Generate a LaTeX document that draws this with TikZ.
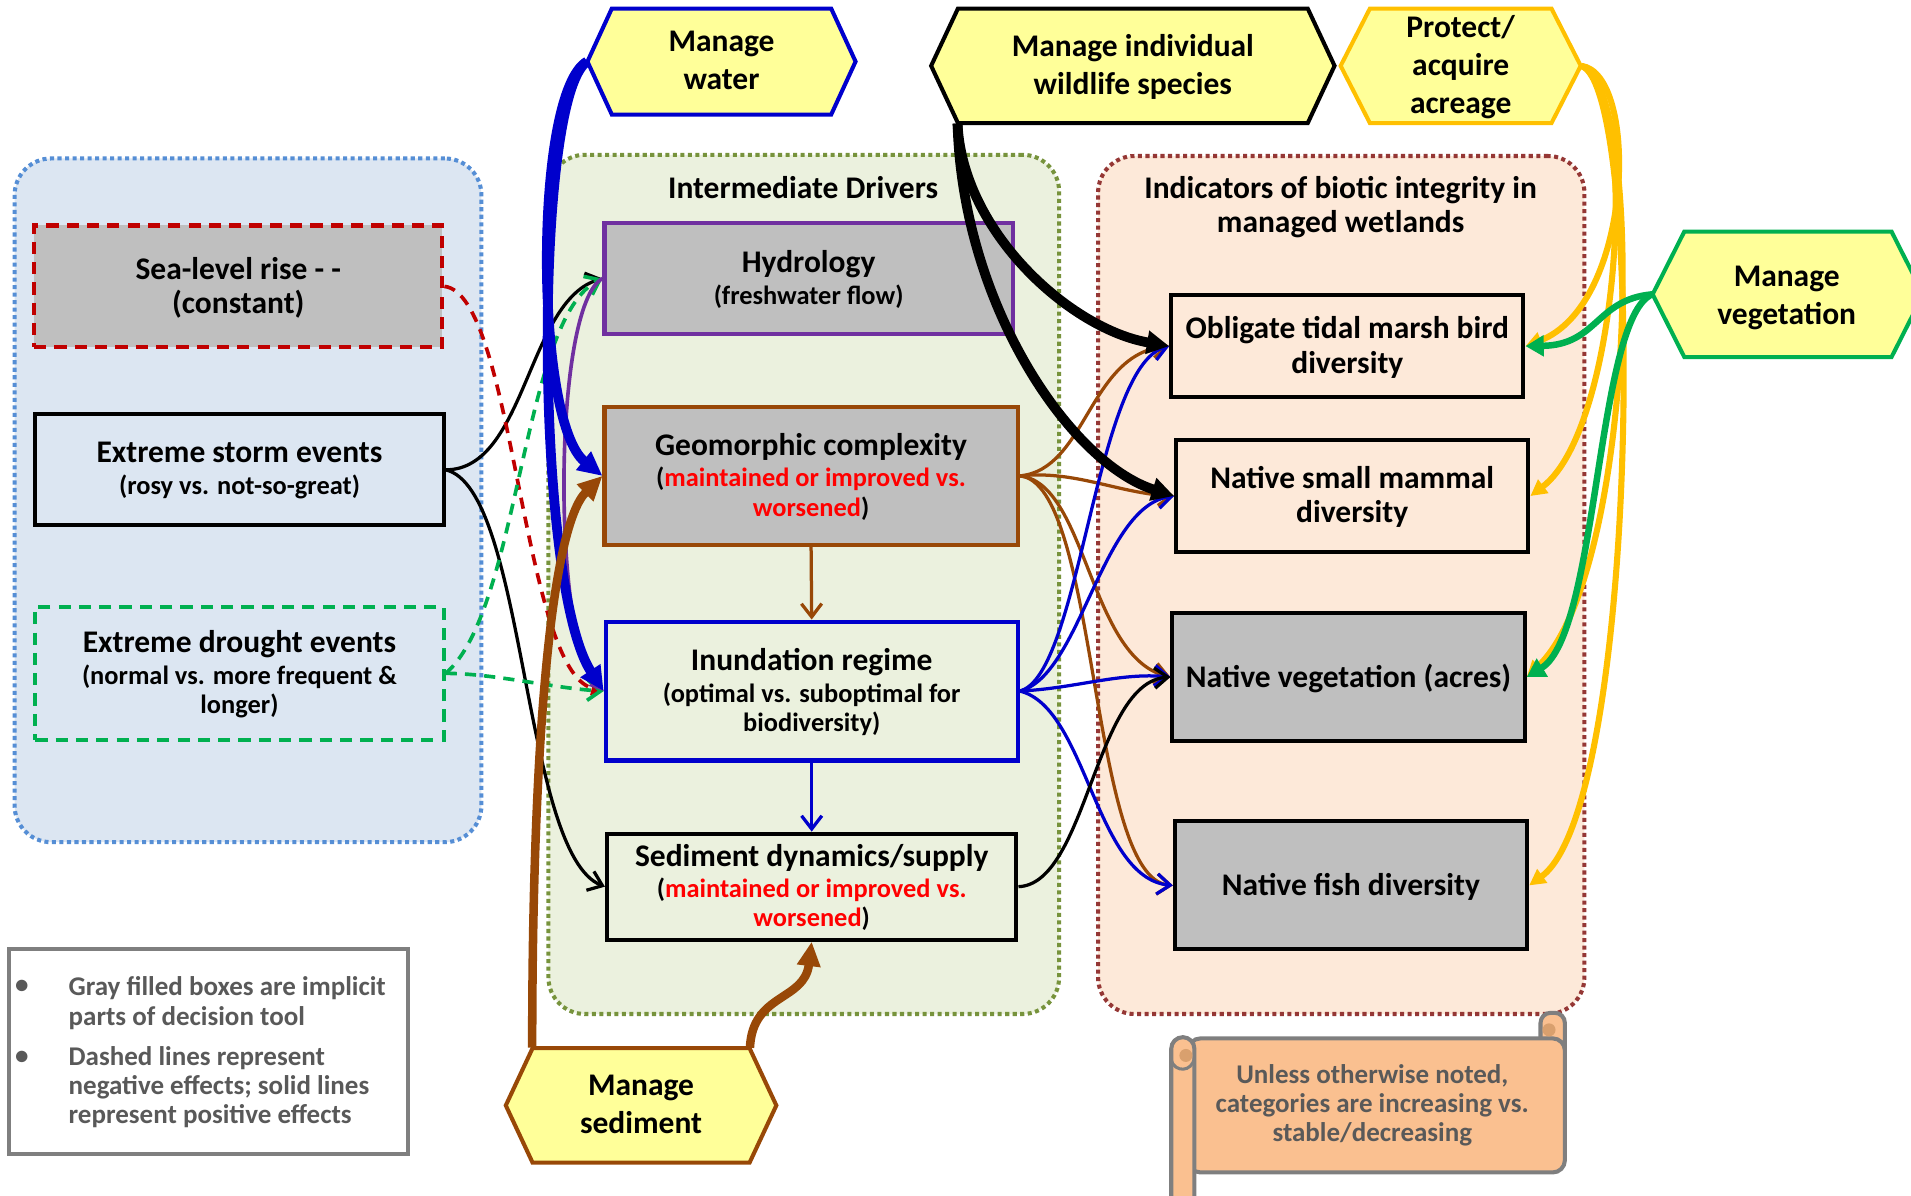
\documentclass[tikz,border=0pt]{standalone}
\usepackage{fontspec}
\setmainfont{Carlito}
\usetikzlibrary{arrows.meta,calc,backgrounds}

\definecolor{leftfill}{HTML}{DCE6F2}
\definecolor{leftline}{HTML}{558ED5}
\definecolor{midfill}{HTML}{EBF1DE}
\definecolor{midline}{HTML}{77933C}
\definecolor{rightfill}{HTML}{FDE9D9}
\definecolor{rightline}{HTML}{953735}
\definecolor{boxgray}{HTML}{BFBFBF}
\definecolor{seared}{HTML}{C00000}
\definecolor{drygreen}{HTML}{00B050}
\definecolor{hydropurple}{HTML}{7030A0}
\definecolor{sedbrown}{HTML}{984807}
\definecolor{waterblue}{HTML}{0000CC}
\definecolor{hexfill}{HTML}{FFFF99}
\definecolor{gold}{HTML}{FFC000}
\definecolor{scrollfill}{HTML}{FAC090}
\definecolor{scrollcurl}{HTML}{D9A06E}
\definecolor{notegray}{HTML}{7F7F7F}
\definecolor{notetext}{HTML}{595959}
\definecolor{hotred}{HTML}{FF0000}

\newcommand\tsize{\fontsize{15.5}{16.8}\selectfont}
\newcommand\ssize{\fontsize{13}{14.4}\selectfont}
\newcommand\nsize{\fontsize{13.3}{14.4}\selectfont}
\newcommand\hexsize{\fontsize{15.5}{18.6}\selectfont}
\newcommand\ttl[1]{{\tsize #1}\\[1.2pt]}
% hexagon outline: colour, left x, right x, top y, bottom y, inset
\newcommand\hexoutline[6]{%
  \draw[hexline=#1] (#2,{(#4+#5)/2}) -- ({#2+#6},#4) -- ({#3-#6},#4) --
    (#3,{(#4+#5)/2}) -- ({#3-#6},#5) -- ({#2+#6},#5) -- cycle;}

\tikzset{
  % a rectangle spanning x1,y1 to x2,y2 (one unit = 0.6pt)
  span/.style args={#1,#2,#3,#4}{rectangle, inner sep=0pt,
    minimum width={(#3-#1)*0.6pt}, minimum height={(#4-#2)*0.6pt},
    at={({(#1+#3)/2},{(#2+#4)/2})}},
  panel/.style={rounded corners=18pt, line width=2pt,
    dash pattern=on 2pt off 1.7pt},
  paneltitle/.style={font=\bfseries\tsize, align=center, inner sep=0pt},
  box/.style={align=center, line width=2pt, font=\bfseries\ssize, text=black,
    text depth=1.2pt},
  tbox/.style={box, font=\bfseries\tsize},
  negbox/.style={dash pattern=on 6pt off 4pt},
  hexlabel/.style={align=center, font=\bfseries\hexsize, text depth=1.2pt},
  hexline/.style={draw=#1, fill=hexfill, line width=2pt, line join=miter},
  barb/.style={-{Straight Barb[length=6.5pt,width=10pt]}},
  thinlink/.style={line width=1.6pt, barb},
  negline/.style={line width=1.8pt, dash pattern=on 5.5pt off 4pt},
  heavy/.style={line width=4.8pt, -{Triangle[length=12pt,width=11pt]}},
  goldlink/.style={draw=gold, line width=3pt, -{Triangle[length=8pt,width=8pt]}},
  greenlink/.style={draw=drygreen, line width=3.2pt, -{Triangle[length=9pt,width=10pt]}},
  scrollline/.style={draw=notegray, fill=scrollfill, line width=2pt},
  note/.style={font=\bfseries\nsize, text=notetext, align=center, inner sep=0pt}
}

\begin{document}
\begin{tikzpicture}[x=0.6pt,y=-0.6pt]
\useasboundingbox (0,0) rectangle (1568,981);

% ---------- panels ----------
\begin{scope}[on background layer]
  \node[span={12,130,395,691}, panel, draw=leftline, fill=leftfill] (drivers) {};
  \node[span={450,127,869,832}, panel, draw=midline, fill=midfill] (middle) {};
  \node[span={901,128,1300,832}, panel, draw=rightline, fill=rightfill] (indicators) {};
\end{scope}
\node[paneltitle] (midtitle) at (659,154) {Intermediate Drivers};
\node[paneltitle] (righttitle) at (1100,170)
  {Indicators of biotic integrity in\\managed wetlands};

% ---------- external drivers ----------
\node[span={28,185,363,285}, tbox, draw=seared, negbox, fill=boxgray] (sea)
  {Sea-level rise - -\\(constant)};
\node[span={29,340,364,431}, box, draw=black, fill=leftfill] (storm)
  {\ttl{Extreme storm events}(rosy vs. not-so-great)};
\node[span={29,498,364,607}, box, draw=drygreen, negbox, fill=leftfill] (drought)
  {\ttl{Extreme drought events}(normal vs. more frequent \&\\longer)};

% ---------- intermediate drivers ----------
\node[span={496,183,831,274}, box, draw=hydropurple, fill=boxgray] (hydro)
  {\ttl{Hydrology}(freshwater flow)};
\node[span={496,334,835,447}, box, draw=sedbrown, fill=boxgray] (geo)
  {\ttl{Geomorphic complexity}(\textcolor{hotred}{maintained or improved vs.}\\\textcolor{hotred}{worsened})};
\node[span={497,510,835,624}, box, draw=waterblue, fill=midfill] (inund)
  {\ttl{Inundation regime}(optimal vs. suboptimal for\\biodiversity)};
\node[span={498,684,834,771}, box, draw=black, fill=midfill] (sedi)
  {\ttl{Sediment dynamics/supply}(\textcolor{hotred}{maintained or improved vs.}\\\textcolor{hotred}{worsened})};

% ---------- indicators ----------
\node[span={961,242,1250,326}, tbox, draw=black, fill=rightfill] (bird)
  {Obligate tidal marsh bird\\diversity};
\node[span={965,361,1254,453}, tbox, draw=black, fill=rightfill] (mammal)
  {Native small mammal\\diversity};
\node[span={962,503,1251,608}, tbox, draw=black, fill=boxgray] (veg)
  {Native vegetation (acres)};
\node[span={964,674,1253,779}, tbox, draw=black, fill=boxgray] (fish)
  {Native fish diversity};

% ---------- management actions ----------
\hexoutline{waterblue}{482}{702}{7}{94}{20}
\node[span={482,7,702,94}, hexlabel] (water) {Manage\\water};
\hexoutline{black}{764}{1095}{7}{101}{22}
\node[span={764,7,1095,101}, hexlabel] (wild) {Manage individual\\wildlife species};
\hexoutline{gold}{1100}{1297}{7}{101}{24}
\node[span={1100,7,1297,101}, hexlabel] (protect) {Protect/\\acquire\\acreage};
\hexoutline{drygreen}{1356}{1578}{190}{293}{26}
\node[span={1356,190,1578,293}, hexlabel] (vegmg) {};
\node[hexlabel, inner sep=0pt] (vegmgtext) at (1466,243) {Manage\\vegetation};
\hexoutline{sedbrown}{415}{637}{860}{954}{22}
\node[span={415,860,637,954}, hexlabel] (sedmg) {Manage\\sediment};

% ---------- legend ----------
\node[span={7,779,335,947}, draw=notegray, fill=white, line width=2pt] (legend) {};
\node[note, anchor=west, align=left] (leg1) at (56,823) {Gray filled boxes are implicit\\parts of decision tool};
\node[note, anchor=west, align=left] (leg2) at (56,892) {Dashed lines represent\\negative effects; solid lines\\represent positive effects};
\node[note] (bul1) at (18,810) {•};
\node[note] (bul2) at (18,868) {•};

% ---------- scroll note ----------
\draw[scrollline, rounded corners=5pt] (1264,862) -- (1264,831) -- (1284,831) -- (1284,862);
\draw[scrollline, rounded corners=6pt] (975,852) -- (1284,852) -- (1284,962) -- (975,962) -- cycle;
\fill[scrollcurl] (1271,845) circle[radius=3.2pt];
\draw[scrollline, rounded corners=5.7pt] (961,992) -- (961,851) -- (980,851) -- (980,992);
\fill[scrollcurl] (973,866) circle[radius=3.2pt];
\draw[notegray, line width=1.5pt] (961,870) .. controls (964,880) and (978,880) .. (980,868);
\node[note] (scrolltext) at (1126,907) {Unless otherwise noted,\\categories are increasing vs.\\stable/decreasing};

% ---------- external driver links ----------
\draw[thinlink] (storm.east) .. controls +(66,0) and +(-62,18) .. (hydro.west);
\draw[thinlink] (storm.east) .. controls +(66,15) and +(-68,-27) .. (sedi.west);
\draw[negline, seared, -{Triangle[length=6pt,width=7pt]}] (sea.east) .. controls +(57,6) and +(-67,-17) .. (inund.west);
\draw[negline, drygreen, barb] (drought.east) .. controls +(61,-52) and +(-66,32) .. (hydro.west);
\draw[negline, drygreen, barb] (drought.east) .. controls +(40,0) and +(-40,-2) .. (inund.west);
\draw[hydropurple, line width=1.8pt, -{Triangle[length=7pt,width=7pt]}] (hydro.west) .. controls +(-41,22) and +(-42,-45) .. (inund.west);

% ---------- links among intermediate drivers ----------
\draw[thinlink, sedbrown] (geo.south) -- (inund.north);
\draw[thinlink, waterblue] (inund.south) -- (sedi.north);

% ---------- links to indicators ----------
\draw[thinlink, sedbrown] (geo.east) .. controls +(55,-5) and +(-66,6) .. (bird.west);
\draw[thinlink, sedbrown] (geo.east) .. controls +(45,-5) and +(-45,-2) .. (mammal.west);
\draw[thinlink, sedbrown] (geo.east) .. controls +(55,5) and +(-67,-16) .. (veg.west);
\draw[thinlink, sedbrown] (geo.east) .. controls +(65,5) and +(-69,-6) .. (fish.west);
\draw[thinlink, waterblue] (inund.east) .. controls +(50,-12) and +(-61,16) .. (bird.west);
\draw[thinlink, waterblue] (inund.east) .. controls +(50,-12) and +(-60,8) .. (mammal.west);
\draw[thinlink, waterblue] (inund.east) .. controls +(45,-2) and +(-42,-4) .. (veg.west);
\draw[thinlink, waterblue] (inund.east) .. controls +(55,13) and +(-64,-6) .. (fish.west);
\draw[thinlink] (sedi.east) .. controls +(56,-2) and +(-62,4) .. (veg.west);

% ---------- management links ----------
\draw[heavy, waterblue] (water.west) .. controls +(-44,25) and +(-56,-45) .. (geo.west);
\draw[heavy, waterblue] (water.west) .. controls +(-44,30) and +(-57,-87) .. (inund.west);
\draw[heavy, sedbrown, line width=4.2pt] ($(sedmg.north west)+(22,0)$) .. controls +(0,-260) and +(-41,40) .. (geo.west);
\draw[heavy, sedbrown, line width=4.2pt] ($(sedmg.north east)+(-22,0)$) .. controls +(2,-45) and +(-6,49) .. (sedi.south);
\draw[heavy, black, -{Triangle[length=11pt,width=11pt]}] ($(wild.south west)+(22,0)$) .. controls +(4,89) and +(-81,-14) .. (bird.west);
\draw[heavy, black, -{Triangle[length=11pt,width=11pt]}] ($(wild.south west)+(22,0)$) .. controls +(4,149) and +(-85,-27) .. (mammal.west);
\draw[goldlink] (protect.east) .. controls +(48,6) and +(89,-34) .. (bird.east);
\draw[goldlink] (protect.east) .. controls +(48,16) and +(75,-57) .. (mammal.east);
\draw[goldlink] (protect.east) .. controls +(53,16) and +(91,-86) .. (veg.east);
\draw[goldlink] (protect.east) .. controls +(53,16) and +(91,-66) .. (fish.east);
\draw[greenlink] (vegmg.west) .. controls +(-46,4) and +(59,-1) .. (bird.east);
\draw[greenlink] (vegmg.west) .. controls +(-46,19) and +(59,-36) .. (veg.east);
\end{tikzpicture}
\end{document}
